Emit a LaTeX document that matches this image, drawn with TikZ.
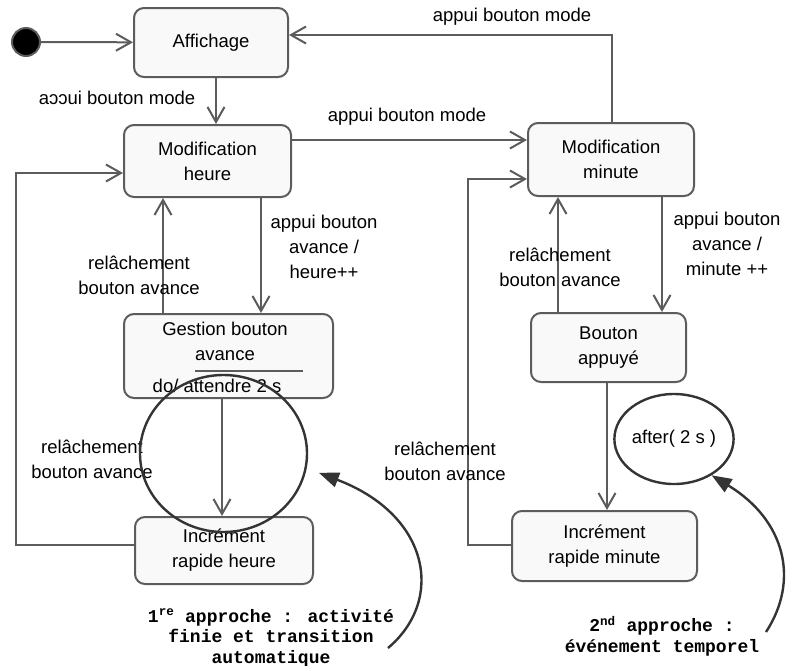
\documentclass[tikz,border=0pt]{standalone}
\usepackage{fontspec}
\setmainfont{Liberation Sans}
\newfontfamily\notefont{Liberation Mono}
\usetikzlibrary{positioning, calc, arrows.meta, shapes.geometric}

\begin{document}
\begin{tikzpicture}[
  x=1pt, y=-1pt,
  every node/.style={
    align=center,
    font=\fontsize{18.5}{25}\selectfont,
  },
  state/.style={
    draw=linegray,
    fill=boxfill,
    rounded corners=10pt,
    line width=2pt,
    inner sep=0pt,
  },
  trans/.style={
    draw=linegray,
    line width=2pt,
    -{Straight Barb[length=15pt,width=17pt,line width=2pt]},
  },
  note/.style={font=\notefont\bfseries\fontsize{18}{20.5}\selectfont},
  hint/.style={draw=hintgray, line width=2.4pt},
  pointer/.style={
    draw=hintgray,
    line width=2.4pt,
    -{Triangle[length=20pt,width=15pt]},
  }
]
  \definecolor{linegray}{RGB}{92,92,92}
  \definecolor{boxfill}{RGB}{249,249,249}
  \definecolor{hintgray}{RGB}{52,52,52}
  \useasboundingbox (0,0) rectangle (788,665);

  % states
  \node[circle, fill=black, draw=linegray, line width=2pt,
    minimum size=28pt, inner sep=0pt] (init) at (26,42) {};
  \node[state, minimum width=154pt, minimum height=69pt] (affich) at (211,42.5) {Affichage};
  \node[state, minimum width=167pt, minimum height=72pt] (modh) at (207.5,161) {Modification\\heure};
  \node[state, minimum width=166pt, minimum height=73pt] (modm) at (611,159.5) {Modification\\minute};
  \node[state, minimum width=209pt, minimum height=84pt] (gest) at (228.5,356) {};
  \node (gesttitle) at (225,341.5) {Gestion bouton\\avance};
  \draw[linegray, line width=1.5pt] (195,371) -- (303,371);
  \node (gestdo) at (217,386) {do/ attendre 2 s};
  \node[state, minimum width=155pt, minimum height=69pt] (bout) at (608.5,347.5) {Bouton\\appuyé};
  \node[state, minimum width=178pt, minimum height=67pt] (inch) at (224,550.5) {Incrément\\rapide heure};
  \node[state, minimum width=185pt, minimum height=70pt] (incm) at (604.5,546) {Incrément\\rapide minute};

  % transitions
  \draw[trans] (init) -- (affich);
  \draw[trans] (affich.south -| 216,0) -- (modh.north -| 216,0);
  \node (lmode1) at (117,98) {aɔɔui bouton mode};
  \draw[trans] (modh.east |- 0,140) -- (modm.west |- 0,140);
  \node (lmode2) at (407,117) {appui bouton mode};
  \draw[trans] (modm.north -| 612,0) -- (612,35) -- (affich.east |- 0,35);
  \node (lmode3) at (512,17) {appui bouton mode};

  \draw[trans] (modh.south -| 261,0) -- (gest.north -| 261,0);
  \node (lavh) at (324,247) {appui bouton\\avance /\\heure++};
  \draw[trans] (gest.north -| 163,0) -- (modh.south -| 163,0);
  \node (lrelh1) at (139,275) {relâchement\\bouton avance};
  \draw[trans] (gest.south -| 222,0) -- (inch.north -| 222,0);
  \node (lrelh2) at (92,459) {relâchement\\bouton avance};
  \draw[trans] (inch.west |- 0,545) -- (16,545) -- (16,173) -- (modh.west |- 0,173);

  \draw[trans] (modm.south -| 662,0) -- (bout.north -| 662,0);
  \node (lavm) at (727,244) {appui bouton\\avance /\\minute ++};
  \draw[trans] (bout.north -| 558,0) -- (modm.south -| 558,0);
  \node (lrelm1) at (560,267) {relâchement\\bouton avance};
  \draw[trans] (bout.south -| 607,0) -- (incm.north -| 607,0);
  \draw[trans] (incm.west |- 0,545) -- (468,545) -- (468,179) -- (modm.west |- 0,179);
  \node (lrelm2) at (445,461) {relâchement\\bouton avance};

  % the two approaches
  \node[ellipse, hint, minimum width=167pt, minimum height=157pt] (ring) at (223.5,453.5) {};
  \node[ellipse, hint, minimum width=116pt, minimum height=90pt, inner sep=0pt] (after) at (674,439) {after( 2 s )};
  \node[note] (note1) at (271,638) {1\textsuperscript{re} approche : activité\\finie et transition\\automatique};
  \node[note] (note2) at (662,636) {2\textsuperscript{nd} approche :\\événement temporel};
  \coordinate (note1end) at (388,648);
  \coordinate (note2end) at (766,632);
  \draw[pointer, shorten >=13pt] (note1end) .. controls (445,600) and (430,515) .. (ring.-10);
  \draw[pointer] (note2end) .. controls (800,580) and (785,520) .. (after.-44);
\end{tikzpicture}
\end{document}
